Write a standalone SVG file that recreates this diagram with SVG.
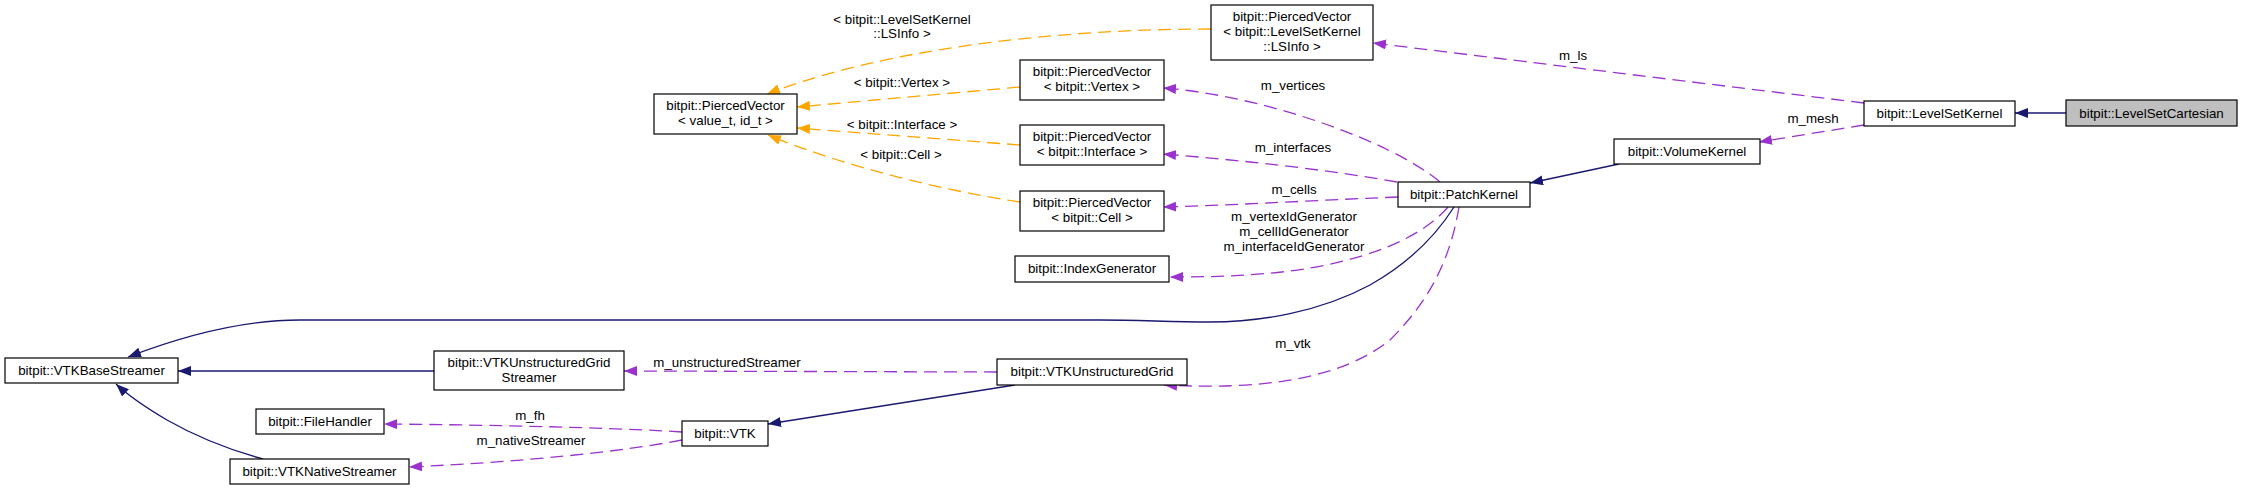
<svg xmlns="http://www.w3.org/2000/svg" width="2243" height="491" viewBox="0 0 2243 491">
<style>
.node rect{fill:#ffffff;stroke:#000000;stroke-width:1.2}
.node.hl rect{fill:#bfbfbf}
text{font-family:"Liberation Sans",Arial,Helvetica,sans-serif;font-size:13.33px;fill:#000000;text-anchor:middle}
.inh{fill:none;stroke:#191970;stroke-width:1.3}
.use{fill:none;stroke:#9a32cd;stroke-width:1.3;stroke-dasharray:13,7}
.tpl{fill:none;stroke:#ffa500;stroke-width:1.3;stroke-dasharray:13,7}
</style>
<defs>
<marker id="aNavy" markerUnits="userSpaceOnUse" markerWidth="14" markerHeight="12" refX="13" refY="5" orient="auto"><path d="M0,0 L13,5 L0,10 Z" fill="#191970" stroke="none"/></marker>
<marker id="aPurple" markerUnits="userSpaceOnUse" markerWidth="14" markerHeight="12" refX="13" refY="5" orient="auto"><path d="M0,0 L13,5 L0,10 Z" fill="#9a32cd" stroke="none"/></marker>
<marker id="aOrange" markerUnits="userSpaceOnUse" markerWidth="14" markerHeight="12" refX="13" refY="5" orient="auto"><path d="M0,0 L13,5 L0,10 Z" fill="#ffa500" stroke="none"/></marker>
</defs>
<rect x="0" y="0" width="2243" height="491" fill="#ffffff"/>
<g id="connectors">
<path class="inh" marker-end="url(#aNavy)" d="M2066,113 L2015,113"/>
<path class="inh" marker-end="url(#aNavy)" d="M1619,164 L1530,183"/>
<path class="inh" marker-end="url(#aNavy)" d="M1454,207 C1430,245 1400,268 1370,285 C1320,312 1260,322 1210,322 C1170,322 1140,320 1100,320 L300,320 C240,320 180,337 128,357"/>
<path class="inh" marker-end="url(#aNavy)" d="M434,371 L178,371"/>
<path class="inh" marker-end="url(#aNavy)" d="M1015,385 L768,424"/>
<path class="inh" marker-end="url(#aNavy)" d="M263,459 C230,450 195,436 167,420 C150,410 130,397 116,384"/>
<path class="use" marker-end="url(#aPurple)" d="M1864,103 L1373,43"/>
<path class="use" marker-end="url(#aPurple)" d="M1864,125 L1759,142"/>
<path class="use" marker-end="url(#aPurple)" d="M1440,182 C1390,140 1260,95 1163,88"/>
<path class="use" marker-end="url(#aPurple)" d="M1397,182 C1330,170 1240,160 1163,154"/>
<path class="use" marker-end="url(#aPurple)" d="M1398,197 C1320,200 1240,205 1163,207"/>
<path class="use" marker-end="url(#aPurple)" d="M1448,207 C1420,240 1360,262 1290,271 C1250,276 1210,277 1170,277"/>
<path class="use" marker-end="url(#aPurple)" d="M1459,207 C1450,260 1430,300 1390,340 C1340,380 1260,390 1164,385"/>
<path class="use" marker-end="url(#aPurple)" d="M997,372 L624,371"/>
<path class="use" marker-end="url(#aPurple)" d="M682,432 C620,428 500,425 384,424"/>
<path class="use" marker-end="url(#aPurple)" d="M682,440 C620,452 520,462 409,467"/>
<path class="tpl" marker-end="url(#aOrange)" d="M1211,29 C1050,29 880,50 767,94"/>
<path class="tpl" marker-end="url(#aOrange)" d="M1020,87 L797,107"/>
<path class="tpl" marker-end="url(#aOrange)" d="M1020,145 L797,128"/>
<path class="tpl" marker-end="url(#aOrange)" d="M1020,202 C940,190 840,165 768,135"/>
<text x="1573" y="60">m_ls</text>
<text x="1813" y="123">m_mesh</text>
<text x="1293" y="90">m_vertices</text>
<text x="1293" y="152">m_interfaces</text>
<text x="1294" y="194">m_cells</text>
<text x="1294" y="221">m_vertexIdGenerator</text>
<text x="1294" y="236">m_cellIdGenerator</text>
<text x="1294" y="251">m_interfaceIdGenerator</text>
<text x="1293" y="348">m_vtk</text>
<text x="727" y="367">m_unstructuredStreamer</text>
<text x="530" y="420">m_fh</text>
<text x="531" y="445">m_nativeStreamer</text>
<text x="902" y="24">&lt; bitpit::LevelSetKernel</text>
<text x="902" y="38">::LSInfo &gt;</text>
<text x="902" y="87">&lt; bitpit::Vertex &gt;</text>
<text x="902" y="129">&lt; bitpit::Interface &gt;</text>
<text x="901" y="159">&lt; bitpit::Cell &gt;</text>
</g>
<g id="LevelSetCartesian" class="node hl"><rect x="2066" y="100" width="171" height="26"/><text x="2151.5" y="117.5">bitpit::LevelSetCartesian</text></g>
<g id="LevelSetKernel" class="node"><rect x="1864" y="101" width="151" height="25"/><text x="1939.5" y="118">bitpit::LevelSetKernel</text></g>
<g id="PV_LSInfo" class="node"><rect x="1211" y="5" width="162" height="55"/><text x="1292" y="21">bitpit::PiercedVector</text><text x="1292" y="36">&lt; bitpit::LevelSetKernel</text><text x="1292" y="51">::LSInfo &gt;</text></g>
<g id="PV_Vertex" class="node"><rect x="1020" y="60" width="144" height="40"/><text x="1092" y="76">bitpit::PiercedVector</text><text x="1092" y="91">&lt; bitpit::Vertex &gt;</text></g>
<g id="PV_Interface" class="node"><rect x="1020" y="125" width="144" height="40"/><text x="1092" y="141">bitpit::PiercedVector</text><text x="1092" y="156">&lt; bitpit::Interface &gt;</text></g>
<g id="PV_Cell" class="node"><rect x="1020" y="191" width="144" height="40"/><text x="1092" y="207">bitpit::PiercedVector</text><text x="1092" y="222">&lt; bitpit::Cell &gt;</text></g>
<g id="PV_generic" class="node"><rect x="654" y="94" width="143" height="40"/><text x="725.5" y="110">bitpit::PiercedVector</text><text x="725.5" y="125">&lt; value_t, id_t &gt;</text></g>
<g id="PatchKernel" class="node"><rect x="1398" y="182" width="132" height="25"/><text x="1464" y="198.5">bitpit::PatchKernel</text></g>
<g id="VolumeKernel" class="node"><rect x="1614" y="139" width="146" height="25"/><text x="1687" y="156">bitpit::VolumeKernel</text></g>
<g id="IndexGenerator" class="node"><rect x="1015" y="256" width="154" height="26"/><text x="1092" y="273">bitpit::IndexGenerator</text></g>
<g id="VTKUnstructuredGrid" class="node"><rect x="997" y="359" width="190" height="26"/><text x="1092" y="376">bitpit::VTKUnstructuredGrid</text></g>
<g id="VTKBaseStreamer" class="node"><rect x="5" y="358" width="173" height="25"/><text x="91.5" y="374.5">bitpit::VTKBaseStreamer</text></g>
<g id="VTKUnstructuredGridStreamer" class="node"><rect x="434" y="351" width="190" height="39"/><text x="529" y="367">bitpit::VTKUnstructuredGrid</text><text x="529" y="382">Streamer</text></g>
<g id="FileHandler" class="node"><rect x="256" y="409" width="128" height="25"/><text x="320" y="425.5">bitpit::FileHandler</text></g>
<g id="VTKNativeStreamer" class="node"><rect x="230" y="459" width="179" height="25"/><text x="319.5" y="476">bitpit::VTKNativeStreamer</text></g>
<g id="VTK" class="node"><rect x="682" y="421" width="86" height="25"/><text x="725" y="437.5">bitpit::VTK</text></g>
</svg>
